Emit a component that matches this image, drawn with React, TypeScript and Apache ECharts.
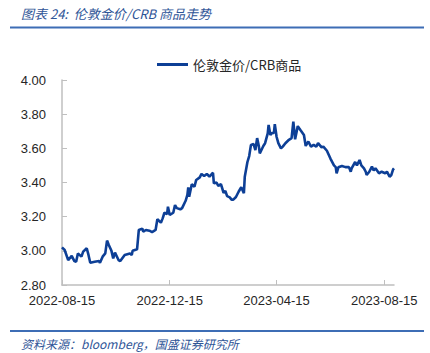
import React, { useEffect, useRef } from "react";
import * as echarts from "echarts";

const titleText = "图表 24:  伦敦金价/CRB 商品走势";
const sourceText = "资料来源：bloomberg，国盛证券研究所";
const seriesName = "伦敦金价/CRB商品";

const dates = [
  "2022-08-15", "2022-08-18", "2022-08-22", "2022-08-26", "2022-08-29", "2022-08-31",
  "2022-09-02", "2022-09-06", "2022-09-08", "2022-09-12", "2022-09-14", "2022-09-16",
  "2022-09-21", "2022-09-26", "2022-09-27", "2022-09-30", "2022-10-03", "2022-10-05",
  "2022-10-07", "2022-10-10", "2022-10-12", "2022-10-14", "2022-10-18", "2022-10-20",
  "2022-10-25", "2022-10-31", "2022-11-02", "2022-11-03", "2022-11-08", "2022-11-10",
  "2022-11-14", "2022-11-15", "2022-11-18", "2022-11-22", "2022-11-25", "2022-11-29",
  "2022-12-01", "2022-12-05", "2022-12-07", "2022-12-09", "2022-12-12", "2022-12-13",
  "2022-12-15", "2022-12-19", "2022-12-21", "2022-12-23", "2022-12-27", "2022-12-29",
  "2023-01-02", "2023-01-04", "2023-01-05", "2023-01-06", "2023-01-09", "2023-01-12",
  "2023-01-14", "2023-01-18", "2023-01-20", "2023-01-23", "2023-01-26", "2023-01-29",
  "2023-02-02", "2023-02-03", "2023-02-06", "2023-02-08", "2023-02-11", "2023-02-14",
  "2023-02-16", "2023-02-18", "2023-02-21", "2023-02-23", "2023-02-25", "2023-02-28",
  "2023-03-03", "2023-03-06", "2023-03-09", "2023-03-10", "2023-03-13", "2023-03-15",
  "2023-03-17", "2023-03-20", "2023-03-22", "2023-03-24", "2023-03-26", "2023-03-27",
  "2023-03-31", "2023-04-02", "2023-04-05", "2023-04-06", "2023-04-08", "2023-04-10",
  "2023-04-12", "2023-04-13", "2023-04-15", "2023-04-17", "2023-04-20", "2023-04-22",
  "2023-04-25", "2023-04-29", "2023-05-02", "2023-05-04", "2023-05-06", "2023-05-09",
  "2023-05-12", "2023-05-16", "2023-05-18", "2023-05-21", "2023-05-24", "2023-05-27",
  "2023-05-30", "2023-06-01", "2023-06-05", "2023-06-07", "2023-06-11", "2023-06-15",
  "2023-06-19", "2023-06-21", "2023-06-22", "2023-06-24", "2023-06-28", "2023-07-02",
  "2023-07-06", "2023-07-08", "2023-07-09", "2023-07-13", "2023-07-15", "2023-07-18",
  "2023-07-20", "2023-07-23", "2023-07-25", "2023-07-26", "2023-07-29", "2023-08-01",
  "2023-08-03", "2023-08-05", "2023-08-09", "2023-08-12", "2023-08-16", "2023-08-18",
  "2023-08-21", "2023-08-23", "2023-08-25", "2023-08-26",
];

const values = [
  3.02, 3.005, 2.946, 2.97, 2.94, 2.936,
  2.985, 2.966, 2.995, 3.015, 2.976, 2.93,
  2.936, 2.94, 2.93, 2.966, 2.985, 3.06,
  3.034, 3.0, 2.956, 2.99, 2.946, 2.94,
  2.976, 2.985, 2.976, 3.0, 3.009, 3.122,
  3.13, 3.112, 3.122, 3.118, 3.11, 3.122,
  3.185, 3.165, 3.19, 3.223, 3.215, 3.258,
  3.21, 3.223, 3.268, 3.25, 3.243, 3.25,
  3.293, 3.327, 3.372, 3.317, 3.39, 3.375,
  3.415, 3.43, 3.45, 3.438, 3.45, 3.435,
  3.457, 3.395, 3.4, 3.38, 3.39, 3.34,
  3.35, 3.32, 3.313, 3.3, 3.3, 3.315,
  3.346, 3.372, 3.337, 3.434, 3.52, 3.555,
  3.62, 3.625, 3.59, 3.66, 3.61, 3.57,
  3.614, 3.63, 3.688, 3.737, 3.678, 3.69,
  3.69, 3.742, 3.668, 3.63, 3.6, 3.61,
  3.63, 3.65, 3.66, 3.756, 3.653, 3.73,
  3.707, 3.678, 3.614, 3.64, 3.61, 3.62,
  3.61, 3.63, 3.606, 3.61, 3.586, 3.54,
  3.5, 3.49, 3.454, 3.489, 3.497, 3.49,
  3.49, 3.463, 3.483, 3.52, 3.5, 3.532,
  3.5, 3.483, 3.463, 3.444, 3.463, 3.493,
  3.47, 3.483, 3.454, 3.463, 3.454, 3.463,
  3.434, 3.444, 3.477, 3.483,
];

const xTickDates = ["2022-08-15", "2022-12-15", "2023-04-15", "2023-08-15"];
const xMin = "2022-08-15";
const xMax = "2023-08-26";
const yMin = 2.8;
const yMax = 4.0;
const yInterval = 0.2;

function toTime(s: string): number {
  const [y, m, d] = s.split("-").map(Number);
  return new Date(y, m - 1, d).getTime();
}

function fmtDate(v: number): string {
  const d = new Date(v);
  const p = (n: number) => (n < 10 ? "0" + n : "" + n);
  return d.getFullYear() + "-" + p(d.getMonth() + 1) + "-" + p(d.getDate());
}

export default function App() {
  const ref = useRef<HTMLDivElement>(null);

  useEffect(() => {
    document.body.style.margin = "0";
    if (!ref.current) return;
    const chart = echarts.init(ref.current, undefined, { renderer: "svg" });
    const tickTimes = xTickDates.map(toTime);
    const blue = "#2F5597";
    chart.setOption({
      animation: false,
      backgroundColor: "#ffffff",
      textStyle: { fontFamily: "Liberation Sans, Arial, sans-serif" },
      grid: { left: 62, right: 36, top: 80, bottom: 68, containLabel: false },
      legend: {
        data: [seriesName],
        left: 152,
        top: 53,
        icon: "rect",
        itemWidth: 31,
        itemHeight: 3,
        itemGap: 10,
        textStyle: {
          fontFamily: "Noto Sans CJK SC, sans-serif",
          fontSize: 13,
          color: "#262626",
        },
      },
      xAxis: {
        type: "value",
        min: toTime(xMin),
        max: toTime(xMax),
        splitLine: { show: false },
        axisLine: { show: true, lineStyle: { color: "#bfbfbf", width: 1.5 } },
        axisTick: {
          show: true,
          inside: true,
          length: 5,
          customValues: tickTimes,
          lineStyle: { color: "#bfbfbf" },
        },
        axisLabel: {
          customValues: tickTimes,
          formatter: (v: number) => fmtDate(v),
          fontSize: 13,
          color: "#262626",
          margin: 9,
          showMinLabel: true,
          showMaxLabel: true,
        },
      },
      yAxis: {
        type: "value",
        min: yMin,
        max: yMax,
        interval: yInterval,
        splitLine: { show: false },
        axisLine: { show: true, lineStyle: { color: "#bfbfbf", width: 1.5 } },
        axisTick: { show: true, inside: true, length: 5, lineStyle: { color: "#bfbfbf" } },
        axisLabel: {
          fontSize: 13,
          color: "#262626",
          margin: 16,
          formatter: (v: number) => v.toFixed(2),
        },
      },
      series: [
        {
          name: seriesName,
          type: "line",
          data: dates.map((d, i) => [toTime(d), values[i]]),
          showSymbol: false,
          symbol: "none",
          lineStyle: { color: "#0D3F96", width: 2.6 },
          itemStyle: { color: "#0D3F96" },
        },
      ],
      graphic: [
        {
          type: "text",
          left: 21,
          top: 7,
          style: {
            text: titleText,
            fill: blue,
            font: "italic 13px 'Noto Sans CJK SC', sans-serif",
          },
        },
        {
          type: "line",
          shape: { x1: 10, y1: 27.5, x2: 424, y2: 27.5 },
          style: { stroke: "#3D6DB5", lineWidth: 2 },
        },
        {
          type: "line",
          shape: { x1: 10, y1: 331, x2: 424, y2: 331 },
          style: { stroke: "#3D6DB5", lineWidth: 2 },
        },
        {
          type: "text",
          left: 21,
          top: 337,
          style: {
            text: sourceText,
            fill: blue,
            font: "italic 12px 'Noto Sans CJK SC', sans-serif",
          },
        },
      ],
    });
    return () => chart.dispose();
  }, []);

  return <div ref={ref} style={{ width: 430, height: 353 }} />;
}
